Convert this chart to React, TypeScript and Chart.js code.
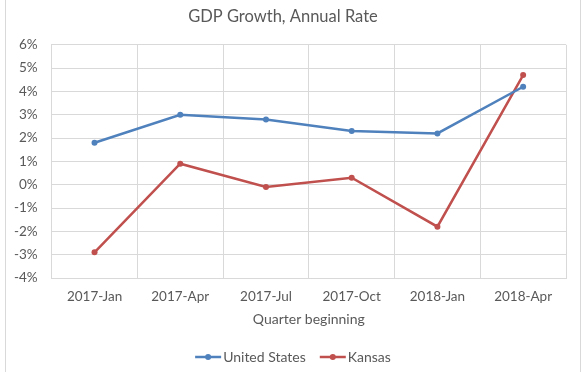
import React, { useEffect, useRef } from "react";
import { Chart, registerables } from "chart.js";

Chart.register(...registerables);

const categories = ["2017-Jan", "2017-Apr", "2017-Jul", "2017-Oct", "2018-Jan", "2018-Apr"];
const unitedStates = [1.8, 3.0, 2.8, 2.3, 2.2, 4.2];
const kansas = [-2.9, 0.9, -0.1, 0.3, -1.8, 4.7];
const seriesNames = ["United States", "Kansas"];
const seriesColors = ["#4f81bd", "#c0504d"];
const yMin = -4;
const yMax = 6;

const FONT = "Lato, 'Open Sans', sans-serif";
const TEXT = "#595959";
const GRID = "#d9d9d9";

const bottomLegend = {
  id: "bottomLegend",
  afterDraw(chart: any) {
    const ctx = chart.ctx;
    const ds = chart.data.datasets;
    ctx.save();
    ctx.font = `14px ${FONT}`;
    ctx.textBaseline = "middle";
    const sw = 26;
    const gapText = 2;
    const gapItem = 14;
    const widths = ds.map((d: any) => sw + gapText + ctx.measureText(d.label).width);
    const total = widths.reduce((a: number, b: number) => a + b, 0) + gapItem * (ds.length - 1);
    let x = (chart.width - total) / 2;
    const y = 357;
    ds.forEach((d: any, i: number) => {
      ctx.strokeStyle = d.borderColor;
      ctx.lineWidth = 2.5;
      ctx.beginPath();
      ctx.moveTo(x, y);
      ctx.lineTo(x + sw, y);
      ctx.stroke();
      ctx.fillStyle = d.borderColor;
      ctx.beginPath();
      ctx.arc(x + sw / 2, y, 3, 0, Math.PI * 2);
      ctx.fill();
      ctx.fillStyle = TEXT;
      ctx.textAlign = "left";
      ctx.fillText(d.label, x + sw + gapText, y);
      x += widths[i] + gapItem;
    });
    ctx.restore();
  },
};

export default function App() {
  const ref = useRef<HTMLCanvasElement>(null);
  useEffect(() => {
    if (!ref.current) return;
    const chart = new Chart(ref.current, {
      type: "line",
      data: {
        labels: categories,
        datasets: [
          {
            label: seriesNames[0],
            data: unitedStates,
            borderColor: seriesColors[0],
            backgroundColor: seriesColors[0],
            borderWidth: 2.5,
            pointRadius: 3,
            pointBackgroundColor: seriesColors[0],
            pointBorderWidth: 0,
            tension: 0,
          },
          {
            label: seriesNames[1],
            data: kansas,
            borderColor: seriesColors[1],
            backgroundColor: seriesColors[1],
            borderWidth: 2.5,
            pointRadius: 3,
            pointBackgroundColor: seriesColors[1],
            pointBorderWidth: 0,
            tension: 0,
          },
        ],
      },
      options: {
        responsive: false,
        animation: false,
        layout: { padding: { top: 0, left: 0, right: 20, bottom: 40 } },
        plugins: {
          legend: { display: false },
          tooltip: { enabled: false },
          title: {
            display: true,
            text: "GDP Growth, Annual Rate",
            color: TEXT,
            font: { family: FONT, size: 16.5, weight: "normal" },
            padding: { top: 7, bottom: 18 },
          },
        },
        scales: {
          x: {
            offset: true,
            grid: { offset: true, color: GRID, drawTicks: false },
            border: { display: true, color: GRID },
            ticks: { color: TEXT, font: { family: FONT, size: 13.5 }, padding: 11, maxRotation: 0 },
            title: {
              display: true,
              text: "Quarter beginning",
              color: TEXT,
              font: { family: FONT, size: 14 },
              padding: { top: -5, bottom: 4 },
            },
          },
          y: {
            min: yMin,
            max: yMax,
            grid: { color: GRID, drawTicks: false },
            border: { display: true, color: GRID },
            ticks: {
              stepSize: 1,
              color: TEXT,
              font: { family: FONT, size: 13.5 },
              padding: 14,
              callback: (v: any) => `${v}%`,
            },
          },
        },
      },
      plugins: [bottomLegend],
    });
    return () => chart.destroy();
  }, []);
  return (
    <div style={{ position: "fixed", left: 0, top: 0, width: 586, height: 372, background: "#fff" }}>
      <div
        style={{
          position: "absolute",
          left: 5,
          top: 0,
          width: 574,
          height: 372,
          borderLeft: "1px solid #d9d9d9",
          borderRight: "1px solid #d9d9d9",
        }}
      />
      <canvas ref={ref} width={586} height={372} style={{ position: "absolute", left: 0, top: 0 }} />
    </div>
  );
}
